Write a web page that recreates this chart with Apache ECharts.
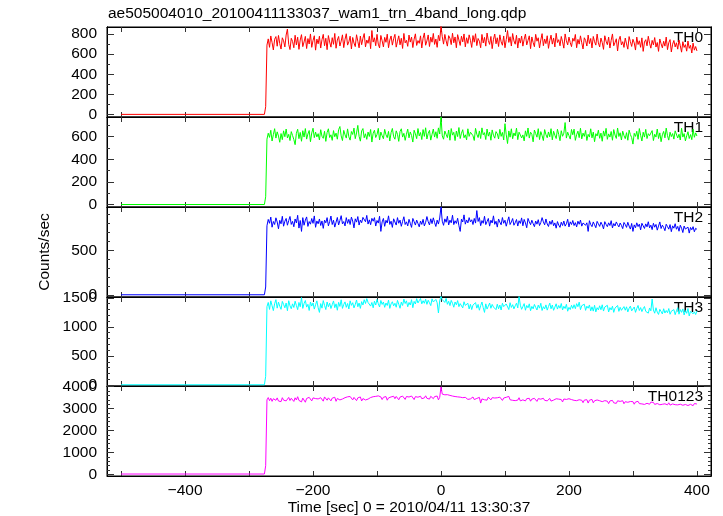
<!DOCTYPE html>
<html><head><meta charset="utf-8">
<script src="https://cdn.jsdelivr.net/npm/echarts@6/dist/echarts.min.js"></script>
<style>html,body{margin:0;padding:0;background:#fff}#c{width:723px;height:516px}</style>
</head><body><div id="c"></div>
<script>
const titleText = 'ae505004010_20100411133037_wam1_trn_4band_long.qdp';
const xAxisTitle = 'Time [sec] 0 = 2010/04/11 13:30:37';
const yAxisTitle = 'Counts/sec';
const bandNames = ['TH0', 'TH1', 'TH2', 'TH3', 'TH0123'];
const bandColors = ['#ff0000', '#00ff00', '#0000ff', '#00ffff', '#ff00ff'];

// quiet interval before the trigger
const preTimes = [-500, -276, -274];
const th0Pre = [2, 2, 78];
const th1Pre = [2, 2, 70];
const th2Pre = [3, 3, 90];
const th3Pre = [4, 4, 150];
const th0123Pre = [12, 12, 390];

// after the rise: 2 s bins from -272 s to 400 s
const binStart = -272;
const binWidth = 2;
const th0 = [
690,752,668,781,716,642,748,775,679,786,705,651,763,733,672,790,850,698,646,758,
727,664,788,692,769,648,741,794,675,722,777,656,755,701,801,668,736,783,640,750,
703,779,661,744,797,684,758,645,785,721,670,764,698,806,659,741,776,681,730,792,
665,748,803,690,722,779,652,766,711,675,793,728,663,780,694,758,805,672,741,708,
778,655,835,720,763,684,797,700,662,786,733,672,767,718,799,664,741,781,690,754,
797,670,729,782,693,758,657,806,712,738,678,790,720,770,666,749,802,687,735,708,
782,662,757,811,689,732,791,676,769,719,806,697,751,668,787,733,880,773,700,796,
733,680,784,759,695,808,713,771,664,794,741,687,779,722,801,673,763,707,792,738,
667,785,719,803,685,756,729,664,796,711,767,680,810,736,697,776,655,748,800,703,
763,676,792,723,689,781,664,745,835,717,773,681,805,732,699,788,661,760,710,780,
680,748,800,692,737,782,655,771,716,674,797,729,763,662,741,804,684,751,705,783,
658,735,789,700,761,672,808,716,744,683,776,723,660,801,733,692,770,714,675,758,
729,796,664,747,700,782,713,652,763,737,681,790,705,756,662,776,724,690,800,712,
672,760,716,648,783,729,694,770,661,738,801,683,716,753,632,741,778,692,724,667,
760,702,650,775,724,677,748,712,641,770,696,733,668,762,628,721,744,683,778,709,
660,737,692,765,671,716,628,751,703,663,728,680,770,645,714,745,622,699,736,672,
713,650,740,684,620,724,667,695,630,731,658,688,612,710,640,676,632];
const th1 = [
578,631,594,657,562,618,671,588,643,606,551,628,574,652,600,668,589,621,566,645,
611,575,530,630,666,583,638,560,653,597,672,579,624,655,556,633,675,592,641,598,
627,571,662,604,586,648,559,637,670,593,617,568,654,600,632,578,662,690,607,566,
656,617,588,669,599,570,646,620,676,583,633,700,604,561,651,672,591,626,577,641,
602,664,553,631,657,593,619,674,571,641,609,582,665,618,592,647,562,636,673,600,
578,652,621,559,646,670,597,630,568,622,667,590,642,611,553,657,625,583,672,607,
637,575,663,603,679,580,629,656,570,621,668,597,644,586,678,624,775,607,578,650,
621,592,659,569,672,614,639,566,650,601,681,584,631,662,591,617,572,670,603,640,
655,609,567,674,622,593,651,584,678,617,636,575,668,605,641,569,660,613,587,645,
626,580,665,603,638,571,715,617,540,651,596,670,582,633,607,676,574,640,616,589,
616,563,652,603,677,588,640,621,555,659,628,596,671,575,645,610,566,663,619,591,
642,599,671,572,648,613,584,666,620,565,653,604,631,725,588,640,609,579,664,617,
667,568,618,649,592,675,581,632,603,656,567,621,597,670,590,641,556,627,606,658,
586,632,560,651,605,674,577,625,597,646,569,663,615,585,677,602,635,571,649,610,
583,636,569,658,619,592,535,630,603,648,577,672,613,562,640,597,665,584,627,609,
602,654,566,622,597,668,584,634,556,617,647,590,676,609,570,640,601,628,579,652,
645,589,622,571,675,597,628,563,608,644,584,619,574,667,595,634,606];
const th2 = [
775,846,803,872,759,823,789,864,817,741,836,797,881,770,826,857,781,833,879,790,
824,764,851,807,892,749,834,712,866,781,839,874,768,822,793,856,802,885,758,829,
797,851,778,829,746,838,808,866,774,822,884,789,837,760,815,868,784,834,888,796,
822,773,866,802,847,789,872,828,751,853,816,878,783,839,809,869,850,820,891,794,
841,787,858,826,866,772,834,805,881,712,818,857,769,836,806,886,790,826,757,853,
817,783,866,803,838,769,824,876,789,819,773,847,803,757,857,821,783,838,801,763,
828,790,847,773,813,878,821,784,853,799,864,811,767,838,794,862,985,826,780,852,
814,881,784,838,808,893,788,831,801,859,776,712,849,817,897,793,840,807,866,819,
842,789,857,805,945,823,866,776,833,803,881,788,822,857,771,837,806,886,791,826,
760,851,815,786,867,803,837,770,826,875,789,818,856,781,809,845,772,831,801,863,
775,846,807,753,857,819,787,837,799,765,828,793,843,777,811,866,819,785,851,795,
767,826,791,838,775,807,748,822,783,757,815,778,828,771,797,848,762,819,789,834,
778,810,762,826,792,839,771,806,819,781,808,712,832,789,765,818,786,753,824,797,
768,815,786,740,821,791,765,808,778,832,751,800,773,818,788,762,806,779,743,812,
789,757,814,772,738,801,712,785,753,808,766,793,729,803,774,745,796,763,820,752,
782,732,803,759,790,726,772,818,744,782,756,720,792,766,737,788,709,774,748,798,
736,768,714,781,748,699,772,738,721,760,693,756,730,765,708,747,735];
const th3 = [
1349,1421,1301,1449,1365,1281,1399,1469,1323,1427,1357,1303,1439,1387,1329,1411,1279,1451,1363,1313,
1397,1335,1443,1369,1297,1421,1347,1505,1319,1403,1455,1341,1389,1283,1429,1359,1413,1307,1381,1449,
1331,1250,1401,1323,1453,1371,1299,1429,1347,1409,1317,1383,1447,1331,1397,1287,1423,1353,1467,1319,
1387,1431,1337,1403,1309,1449,1371,1417,1327,1387,1463,1347,1411,1319,1435,1377,1469,1403,1487,1421,
1447,1359,1421,1329,1443,1377,1473,1401,1343,1455,1387,1429,1337,1411,1369,1461,1319,1397,1433,1363,
1407,1339,1457,1391,1321,1427,1369,1479,1403,1449,1347,1421,1377,1469,1331,1439,1395,1487,1413,1453,
1489,1397,1451,1407,1477,1389,1459,1415,1367,1483,1429,1401,1473,1417,1240,1447,1530,1471,1439,1421,
1491,1389,1441,1367,1457,1407,1339,1429,1381,1453,1349,1401,1417,1327,1433,1371,1351,1407,1309,1389,
1299,1375,1341,1419,1323,1387,1287,1367,1429,1331,1250,1397,1307,1357,1411,1321,1387,1343,1369,1297,
1391,1313,1377,1291,1407,1349,1317,1395,1361,1299,1417,1335,1383,1311,1363,1409,1327,1528,1373,1303,
1351,1401,1287,1369,1329,1397,1279,1353,1311,1387,1337,1291,1375,1323,1407,1283,1349,1311,1379,1289,
1351,1409,1312,1377,1286,1341,1398,1307,1369,1322,1403,1291,1355,1316,1389,1270,1337,1299,1372,1318,
1382,1314,1400,1348,1426,1297,1366,1333,1391,1285,1357,1322,1378,1276,1346,1272,1372,1258,1331,1294,
1364,1296,1381,1273,1343,1317,1372,1257,1332,1293,1357,1251,1324,1300,1369,1268,1338,1286,1314,1350,
1287,1346,1258,1321,1358,1276,1306,1343,1251,1317,1369,1282,1333,1264,1314,1351,1268,1301,1237,1326,
1277,1480,1291,1236,1330,1254,1215,1302,1266,1223,1313,1239,1282,1244,1316,1218,1271,1237,1298,1211,
1278,1331,1219,1299,1251,1310,1206,1282,1234,1317,1188,1269,1292,1225,1260,1213,1276];
const th0123 = [
3398,3502,3361,3473,3329,3449,3521,3377,3487,3344,3431,3316,3496,3383,3462,3351,3441,3509,3368,3470,
3413,3326,3491,3392,3541,3371,3452,3305,3478,3402,3289,3463,3378,3512,3421,3349,3487,3397,3455,3520,
3440,3365,3496,3408,3338,3531,3447,3381,3489,3426,3352,3476,3405,3517,3331,3459,3528,3394,3468,3437,
3401,3497,3433,3536,3458,3551,3476,3395,3509,3440,3362,3489,3418,3530,3345,3456,3541,3392,3472,3431,
3409,3503,3432,3541,3461,3556,3474,3579,3493,3532,3412,3514,3447,3548,3381,3486,3425,3531,3451,3562,
3451,3553,3476,3402,3524,3447,3569,3489,3418,3551,3471,3527,3440,3573,3492,3411,3545,3478,3519,3446,
3562,3451,3517,3486,3583,3468,3536,3433,3559,3491,3452,3548,3474,3571,3398,3513,3990,3660,3597,3628,
3589,3634,3551,3602,3518,3571,3492,3549,3467,3533,3459,3521,3438,3497,3431,3512,3462,3419,3493,3441,
3447,3528,3412,3495,3463,3398,3511,3250,3439,3506,3401,3483,3384,3521,3449,3396,3497,3428,3482,3391,
3492,3419,3521,3437,3372,3481,3413,3514,3428,3556,3401,3472,3377,3468,3362,3441,3386,3495,3351,3436,
3398,3481,3349,3451,3381,3467,3336,3432,3372,3466,3409,3327,3452,3371,3429,3345,3468,3375,3441,3352,
3373,3462,3341,3425,3386,3324,3448,3361,3431,3349,3412,3302,3436,3368,3417,3335,3449,3358,3410,3321,
3376,3297,3361,3283,3402,3330,3379,3269,3388,3336,3405,3251,3382,3315,3416,3262,3357,3326,3392,3309,
3357,3268,3316,3249,3361,3282,3338,3226,3349,3291,3371,3262,3332,3237,3354,3275,3327,3252,3358,3221,
3313,3236,3287,3219,3322,3248,3316,3198,3301,3251,3329,3226,3297,3213,3286,3189,3279,3241,3304,3197,
3293,3205,3283,3188,3271,3231,3289,3173,3262,3196,3251,3217,3286,3170,3263,3158,3244,3212,3259,3176,
3262,3168,3248,3199,3271,3151,3236,3186,3262,3139,3224,3193,3257,3132,3229,3171,3208];

// axes
const xTickValues = [-500,-400,-300,-200,-100,0,100,200,300,400];
const xLabelValues = [-400,-200,0,200,400];
const yLabelValues = [
  [0,200,400,600,800],
  [0,200,400,600],
  [0,500],
  [0,500,1000,1500],
  [0,1000,2000,3000,4000]
];
const yMinorValues = [
  [100,300,500,700],
  [100,300,500,700],
  [100,200,300,400,600,700,800,900],
  [100,200,300,400,600,700,800,900,1100,1200,1300,1400],
  [200,400,600,800,1200,1400,1600,1800,2200,2400,2600,2800,3200,3400,3600,3800]
];
const yRanges = [[-24,870],[-20,774],[-22,985],[-17,1515],[-78,4030]];
const xRange = [-522,422];

const preSets = [th0Pre, th1Pre, th2Pre, th3Pre, th0123Pre];
const valSets = [th0, th1, th2, th3, th0123];

const FONT = 'Liberation Sans, Arial, Helvetica, sans-serif';
const gridTops = [27, 117, 207, 297, 386];
const gridHeights = [90, 90, 90, 89, 90];
const fmtNum = v => (v < 0 ? '\u2212' + (-v) : String(v));
const tickStyle = {color: '#333', width: 1};
const lineStyle = {color: '#000', width: 1};

const grids = [], xAxes = [], yAxes = [], series = [], graphics = [];
for (let g = 0; g < 5; g++) {
  grids.push({left: 107, right: 12, top: gridTops[g], height: gridHeights[g],
    show: true, borderColor: '#000', borderWidth: 1, backgroundColor: 'transparent'});
  ['bottom', 'top'].forEach(pos => {
    xAxes.push({gridIndex: g, type: 'value', position: pos, min: xRange[0], max: xRange[1],
      axisLine: {show: true, onZero: false, lineStyle: lineStyle}, splitLine: {show: false},
      axisTick: {show: true, inside: true, length: 5, customValues: xTickValues, lineStyle: tickStyle},
      axisLabel: {show: (g === 4 && pos === 'bottom'), customValues: xLabelValues,
        formatter: fmtNum, fontSize: 15.5, fontFamily: FONT, color: '#000', margin: 7}
    });
  });
  ['left', 'right'].forEach(pos => {
    yAxes.push({gridIndex: g, type: 'value', position: pos, offset: 0,
      min: yRanges[g][0], max: yRanges[g][1],
      axisLine: {show: true, onZero: false, lineStyle: lineStyle}, splitLine: {show: false},
      axisTick: {show: true, inside: true, length: 7, customValues: yLabelValues[g], lineStyle: tickStyle},
      axisLabel: {show: pos === 'left', customValues: yLabelValues[g], formatter: fmtNum,
        fontSize: 15.5, fontFamily: FONT, color: '#000', margin: 10}
    });
    yAxes.push({gridIndex: g, type: 'value', position: pos, offset: 0,
      min: yRanges[g][0], max: yRanges[g][1],
      axisLine: {show: true, onZero: false, lineStyle: lineStyle}, splitLine: {show: false},
      axisTick: {show: true, inside: true, length: 3, customValues: yMinorValues[g], lineStyle: tickStyle},
      axisLabel: {show: false}
    });
  });
  const pre = preSets[g], vals = valSets[g];
  const data = preTimes.map((t, k) => [t, pre[k]])
    .concat(vals.map((v, i) => [binStart + i * binWidth, v]));
  series.push({type: 'line', xAxisIndex: g * 2, yAxisIndex: g * 4, data: data,
    showSymbol: false, symbol: 'none', clip: true,
    lineStyle: {color: bandColors[g], width: 1}, itemStyle: {color: bandColors[g]}});
  graphics.push({type: 'text', right: 20, top: gridTops[g] + 3,
    style: {text: bandNames[g], font: '15.5px ' + FONT, fill: '#000'}});
}
graphics.push({type: 'text', left: 108, top: 6,
  style: {text: titleText, font: '15.5px ' + FONT, fill: '#000'}});
graphics.push({type: 'text', x: 409, y: 508,
  style: {text: xAxisTitle, font: '15.5px ' + FONT, fill: '#000', align: 'center', verticalAlign: 'middle'}});
graphics.push({type: 'text', x: 45, y: 252, rotation: Math.PI / 2,
  style: {text: yAxisTitle, font: '15.5px ' + FONT, fill: '#000', align: 'center', verticalAlign: 'middle'}});

const chart = echarts.init(document.getElementById('c'), null, {renderer: 'canvas'});
chart.setOption({
  animation: false,
  backgroundColor: '#fff',
  grid: grids, xAxis: xAxes, yAxis: yAxes, series: series, graphic: graphics
});
</script></body></html>
